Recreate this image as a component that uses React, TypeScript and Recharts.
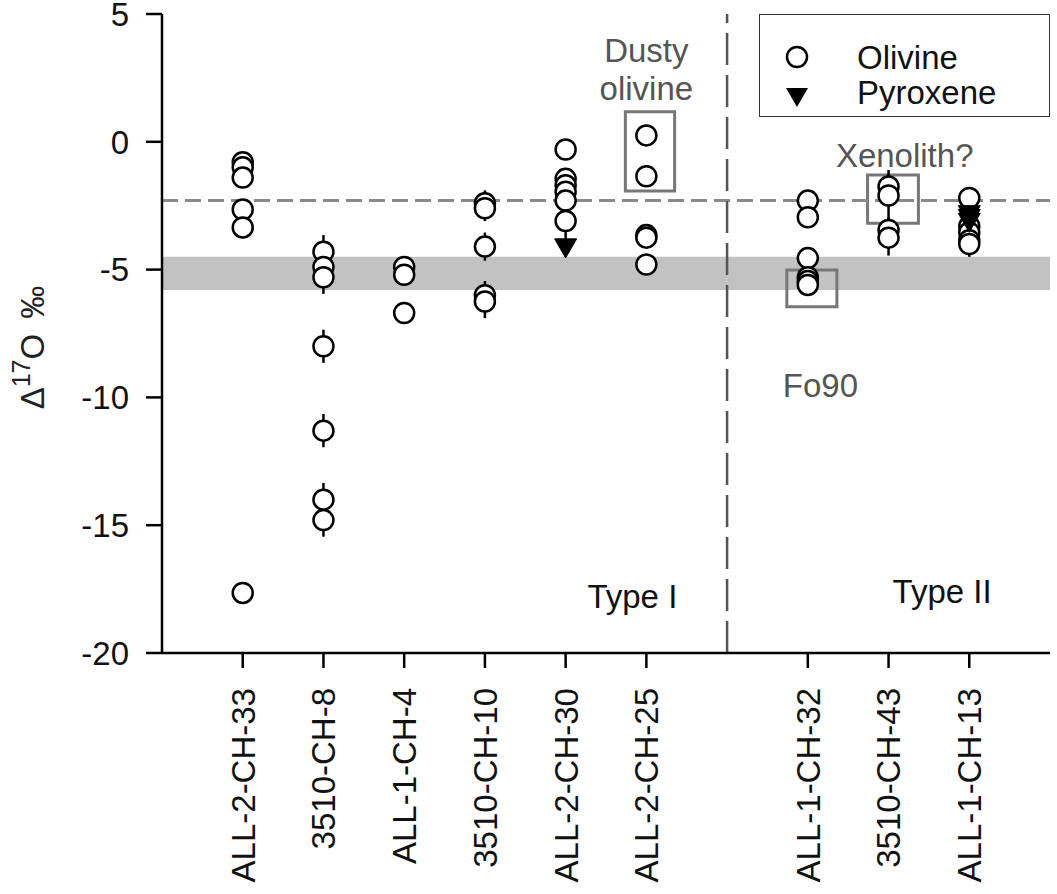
import {
  ScatterChart,
  Scatter,
  XAxis,
  YAxis,
  ErrorBar,
  ReferenceArea,
  ReferenceLine,
  ReferenceDot,
  Legend,
} from 'recharts';

const typeISamples = ['ALL-2-CH-33', '3510-CH-8', 'ALL-1-CH-4', '3510-CH-10', 'ALL-2-CH-30', 'ALL-2-CH-25'];
const typeIISamples = ['ALL-1-CH-32', '3510-CH-43', 'ALL-1-CH-13'];
const samples = [...typeISamples, ...typeIISamples];

// Δ17O (‰) per grain, one list per sample (same order as samples)
const olivineD17O = [
  [-0.8, -1.0, -1.4, -2.65, -3.35, -17.65],
  [-4.3, -4.9, -5.3, -8.0, -11.3, -14.0, -14.8],
  [-4.9, -5.2, -6.7],
  [-2.4, -2.6, -4.1, -6.0, -6.25],
  [-0.3, -1.45, -1.7, -1.95, -2.3, -3.1],
  [0.25, -1.35, -3.65, -3.75, -4.8],
  [-2.3, -2.95, -4.55, -5.3, -5.45, -5.6],
  [-1.75, -2.1, -3.45, -3.75],
  [-2.2, -3.3, -3.55, -3.85, -4.0],
];
const olivineErr = [
  [0, 0, 0, 0, 0, 0],
  [0.65, 0.65, 0.65, 0.65, 0.65, 0.65, 0.65],
  [0, 0, 0],
  [0.5, 0.5, 0.55, 0.55, 0.65],
  [0, 0, 0, 0, 0, 0.75],
  [0, 0, 0, 0, 0],
  [0, 0, 0, 0, 0, 0],
  [0.5, 1.0, 0.5, 0.7],
  [0, 0, 0, 0, 0.5],
];
const pyroxeneD17O = [[], [], [], [], [-4.15], [], [], [], [-2.85, -3.0, -3.15]];
const pyroxeneErr = [[], [], [], [], [0], [], [], [], [0, 0, 0]];

const bandRange = [-5.8, -4.5];
const dashedLevel = -2.3;
const yMajorTicks = [-20, -15, -10, -5, 0, 5];
const yMinorTicks = Array.from({ length: 26 }, (_, i) => -20 + i);

const FONT = '"Liberation Sans", Arial, sans-serif';

// slot on the x axis: one empty slot between the two groups
const slotOf = (i: number) => (i < typeISamples.length ? i + 1 : i + 2);
const sampleSlots = samples.map((_, i) => slotOf(i));
const allSlots = Array.from({ length: 10 }, (_, i) => i + 1);

const toPoints = (vals: number[][], errs: number[][]) =>
  vals.flatMap((list, i) => list.map((v, j) => ({ x: slotOf(i), y: v, err: errs[i][j] })));

const olivinePts = toPoints(olivineD17O, olivineErr);
const pyroxenePts = toPoints(pyroxeneD17O, pyroxeneErr);

const OpenCircle = (p: any) => (
  <circle cx={p.cx} cy={p.cy} r={10} fill="#fff" stroke="#000" strokeWidth={2.5} />
);

const DownTriangle = (p: any) => (
  <polygon
    points={`${p.cx - 11},${p.cy - 9} ${p.cx + 11},${p.cy - 9} ${p.cx},${p.cy + 10}`}
    fill="#000"
    stroke="#000"
    strokeWidth={1}
  />
);

const SampleTick = (p: any) => {
  const idx = sampleSlots.indexOf(p.payload.value);
  return (
    <text
      x={p.x}
      y={p.y}
      dy="0.36em"
      transform={`rotate(-90 ${p.x} ${p.y})`}
      textAnchor="end"
      fontSize={33}
      fontFamily={FONT}
      fill="#111"
    >
      {samples[idx]}
    </text>
  );
};

const YLabel = (p: any) => {
  const vb = p.viewBox;
  const x = vb.x + 44;
  const y = vb.y + vb.height / 2 + 14;
  return (
    <text
      x={x}
      y={y}
      transform={`rotate(-90 ${x} ${y})`}
      textAnchor="middle"
      fontFamily={FONT}
      fontSize={33}
      fill="#222"
    >
      Δ
      <tspan dy={-14} fontSize={25}>17</tspan>
      <tspan dy={14}>O </tspan>
      <tspan dx={6}>‰</tspan>
    </text>
  );
};

const note = (lines: string[], anchor: 'start' | 'middle', color: string, lineGap = 38) => (p: any) => {
  const vb = p.viewBox;
  const x = vb.x + vb.width / 2;
  const y = vb.y + vb.height / 2;
  return (
    <text x={x} y={y} textAnchor={anchor} fontSize={33} fontFamily={FONT} fill={color}>
      {lines.map((l, i) => (
        <tspan key={l} x={x} dy={i === 0 ? 0 : lineGap}>
          {l}
        </tspan>
      ))}
    </text>
  );
};

const LegendBox = () => (
  <div style={{ width: 291, height: 103, border: '1.5px solid #333', boxSizing: 'border-box' }}>
    <svg width={291} height={103} style={{ display: 'block' }}>
      <circle cx={37} cy={42} r={10} fill="#fff" stroke="#000" strokeWidth={2.5} />
      <polygon points="26,73 48,73 37,92" fill="#000" />
      <text x={97} y={54} fontSize={33} fontFamily={FONT} fill="#111">Olivine</text>
      <text x={97} y={89} fontSize={33} fontFamily={FONT} fill="#111">Pyroxene</text>
    </svg>
  </div>
);

const axisStroke = { stroke: '#000', strokeWidth: 2.5 };

export default function App() {
  return (
    <div style={{ position: 'absolute', left: 0, top: 0, background: '#fff' }}>
      <ScatterChart width={1057} height={894} margin={{ top: 14, right: 7, bottom: 0, left: 0 }}>
        <XAxis
          type="number"
          dataKey="x"
          domain={[0, 11]}
          ticks={sampleSlots}
          interval={0}
          height={241}
          tickSize={15}
          tickMargin={20}
          axisLine={axisStroke}
          tickLine={axisStroke}
          tick={<SampleTick />}
        />
        <XAxis
          xAxisId="top"
          orientation="top"
          type="number"
          domain={[0, 11]}
          ticks={allSlots}
          interval={0}
          height={0}
          mirror
          tickSize={15}
          tick={false}
          axisLine={axisStroke}
          tickLine={axisStroke}
        />
        <YAxis
          yAxisId="leftMinor"
          type="number"
          domain={[-20, 5]}
          ticks={yMinorTicks}
          interval={0}
          width={0}
          tickSize={10}
          tick={false}
          axisLine={false}
          tickLine={axisStroke}
        />
        <YAxis
          type="number"
          dataKey="y"
          domain={[-20, 5]}
          ticks={yMajorTicks}
          interval={0}
          width={162}
          tickSize={16}
          tickMargin={17}
          axisLine={axisStroke}
          tickLine={axisStroke}
          tick={{ fontSize: 33, fontFamily: FONT, fill: '#111' }}
          label={{ content: <YLabel /> }}
        />
        <YAxis
          yAxisId="rightMinor"
          orientation="right"
          type="number"
          domain={[-20, 5]}
          ticks={yMinorTicks}
          interval={0}
          width={0}
          mirror
          tickSize={10}
          tick={false}
          axisLine={axisStroke}
          tickLine={axisStroke}
        />
        <YAxis
          yAxisId="rightMajor"
          orientation="right"
          type="number"
          domain={[-20, 5]}
          ticks={yMajorTicks}
          interval={0}
          width={0}
          mirror
          tickSize={16}
          tick={false}
          axisLine={false}
          tickLine={axisStroke}
        />

        <ReferenceArea y1={bandRange[0]} y2={bandRange[1]} fill="#c2c2c2" fillOpacity={1} stroke="none" />
        <ReferenceLine y={dashedLevel} stroke="#8a8a8a" strokeWidth={3} strokeDasharray="16 7" />
        <ReferenceLine x={7} stroke="#555" strokeWidth={2.5} strokeDasharray="32 10" />

        <ReferenceArea x1={5.74} x2={6.35} y1={-1.92} y2={1.18} fill="none" stroke="#777" strokeWidth={3} />
        <ReferenceArea x1={7.74} x2={8.36} y1={-6.45} y2={-5.02} fill="none" stroke="#777" strokeWidth={3} />
        <ReferenceArea x1={8.74} x2={9.37} y1={-3.19} y2={-1.3} fill="none" stroke="#777" strokeWidth={3} />

        <ReferenceDot x={6.0} y={3.12} r={1} fill="none" stroke="none" label={{ content: note(['Dusty', 'olivine'], 'middle', '#555') }} />
        <ReferenceDot x={9.2} y={-1.0} r={1} fill="none" stroke="none" label={{ content: note(['Xenolith?'], 'middle', '#555') }} />
        <ReferenceDot x={7.69} y={-10.0} r={1} fill="none" stroke="none" label={{ content: note(['Fo90'], 'start', '#555') }} />
        <ReferenceDot x={5.27} y={-18.24} r={1} fill="none" stroke="none" label={{ content: note(['Type I'], 'start', '#111') }} />
        <ReferenceDot x={9.05} y={-18.04} r={1} fill="none" stroke="none" label={{ content: note(['Type II'], 'start', '#111') }} />

        <Scatter name="Olivine" data={olivinePts} shape={OpenCircle} isAnimationActive={false}>
          <ErrorBar dataKey="err" direction="y" width={0} stroke="#000" strokeWidth={2.5} />
        </Scatter>
        <Scatter name="Pyroxene" data={pyroxenePts} shape={DownTriangle} isAnimationActive={false}>
          <ErrorBar dataKey="err" direction="y" width={0} stroke="#000" strokeWidth={2.5} />
        </Scatter>

        <Legend
          layout="vertical"
          align="center"
          verticalAlign="middle"
          wrapperStyle={{ left: 759, top: 14, width: 291, height: 103 }}
          content={<LegendBox />}
        />
      </ScatterChart>
    </div>
  );
}
